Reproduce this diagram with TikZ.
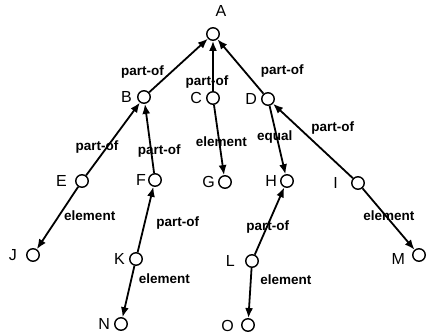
\documentclass[tikz,border=0pt]{standalone}
\usepackage{fontspec}
\setmainfont{Liberation Sans}
\usetikzlibrary{arrows.meta}

\begin{document}
\begin{tikzpicture}[x=1pt, y=-1pt, label distance=5pt]
	% % % % % % % % % % % % % % % % % % % % % % % % % % % % % %
	% Define styles
	\tikzstyle{vertex} = [circle, draw, line width=1.4pt, minimum size=12.5pt, inner sep=0pt]
	\tikzstyle{line} = [draw, -{Latex[length=10pt, width=8pt]}, line width=1.8pt]
	\tikzstyle{rel} = [font=\bfseries\fontsize{13.5}{14}\selectfont, inner sep=0pt]
	\tikzset{every label/.style={font=\fontsize{16}{16}\selectfont, inner sep=0pt}}

	\useasboundingbox (0,0) rectangle (426,333);

	% % % % % % % % % % % % % % % % % % % % % % % % % % % % % %
	% Place nodes
	% root
	\node [vertex, label={[xshift=8pt, label distance=10pt]above:A}] (a) at (213,34) {};
	% level 1
	\node [vertex, below of=a, node distance=63pt, xshift=-69pt, label={[label distance=5pt]left:B}] (b) {};
	\node [vertex, below of=a, node distance=64pt, label={[label distance=4pt]left:C}] (c) {};
	\node [vertex, below of=a, node distance=65pt, xshift=55pt, label={[label distance=4pt]left:D}] (d) {};
	% level 2
	\node [vertex, below of=b, node distance=84pt, xshift=-62pt, label={[label distance=8pt]left:E}] (e) {};
	\node [vertex, below of=b, node distance=83pt, xshift=11pt, label={[label distance=2pt]left:F}] (f) {};
	\node [vertex, below of=c, node distance=84pt, xshift=12pt, label={[label distance=3pt]left:G}] (g) {};
	\node [vertex, below of=d, node distance=82pt, xshift=19pt, label={[label distance=3pt]left:H}] (h) {};
	\node [vertex, below of=d, node distance=84pt, xshift=90pt, label={[label distance=13pt]left:I}] (i) {};
	% level 3
	\node [vertex, below of=e, node distance=74pt, xshift=-49pt, label={[label distance=9pt]left:J}] (j) {};
	\node [vertex, below of=f, node distance=79pt, xshift=-19pt, label={[label distance=4pt]left:K}] (k) {};
	\node [vertex, below of=h, node distance=80pt, xshift=-35pt, label={[label distance=10pt]left:L}] (l) {};
	\node [vertex, below of=i, node distance=72pt, xshift=61pt, label={[label distance=7pt, yshift=-4pt]left:M}] (m) {};
	% level 4
	\node [vertex, below of=k, node distance=65pt, xshift=-15pt, label={[label distance=4pt]left:N}] (n) {};
	\node [vertex, below of=l, node distance=64pt, xshift=-4pt, label={[label distance=7pt, yshift=-0.5pt]left:O}] (o) {};

	% % % % % % % % % % % % % % % % % % % % % % % % % % % % % %
	% Draw edges
	\path [line] (b) -- node[rel, pos=0.38, xshift=-29pt] {part-of} (a);
	\path [line] (c) -- node[rel, pos=0.19, xshift=-6pt] {part-of} (a);
	\path [line] (d) -- node[rel, pos=0.42, xshift=38pt] {part-of} (a);
	% % into B
	\path [line] (e) -- node[rel, pos=0.39, xshift=-10pt] {part-of} (b);
	\path [line] (f) -- node[rel, pos=0.32, xshift=8pt] {part-of} (b);
	% % C and D downwards
	\path [line] (c) -- node[rel, pos=0.53, xshift=2pt] {element} (g);
	\path [line] (d) -- node[rel, pos=0.46, xshift=-2pt] {equal} (h);
	\path [line] (i) -- node[rel, pos=0.68, xshift=34pt] {part-of} (d);
	% % third level
	\path [line] (e) -- node[rel, pos=0.47, xshift=31pt] {element} (j);
	\path [line] (k) -- node[rel, pos=0.45, xshift=33pt] {part-of} (f);
	\path [line] (l) -- node[rel, pos=0.41, xshift=1pt] {part-of} (h);
	\path [line] (i) -- node[rel, pos=0.45, xshift=3pt] {element} (m);
	% % fourth level
	\path [line] (k) -- node[rel, pos=0.25, xshift=33pt] {element} (n);
	\path [line] (l) -- node[rel, pos=0.23, xshift=35pt] {element} (o);
\end{tikzpicture}
\end{document}
